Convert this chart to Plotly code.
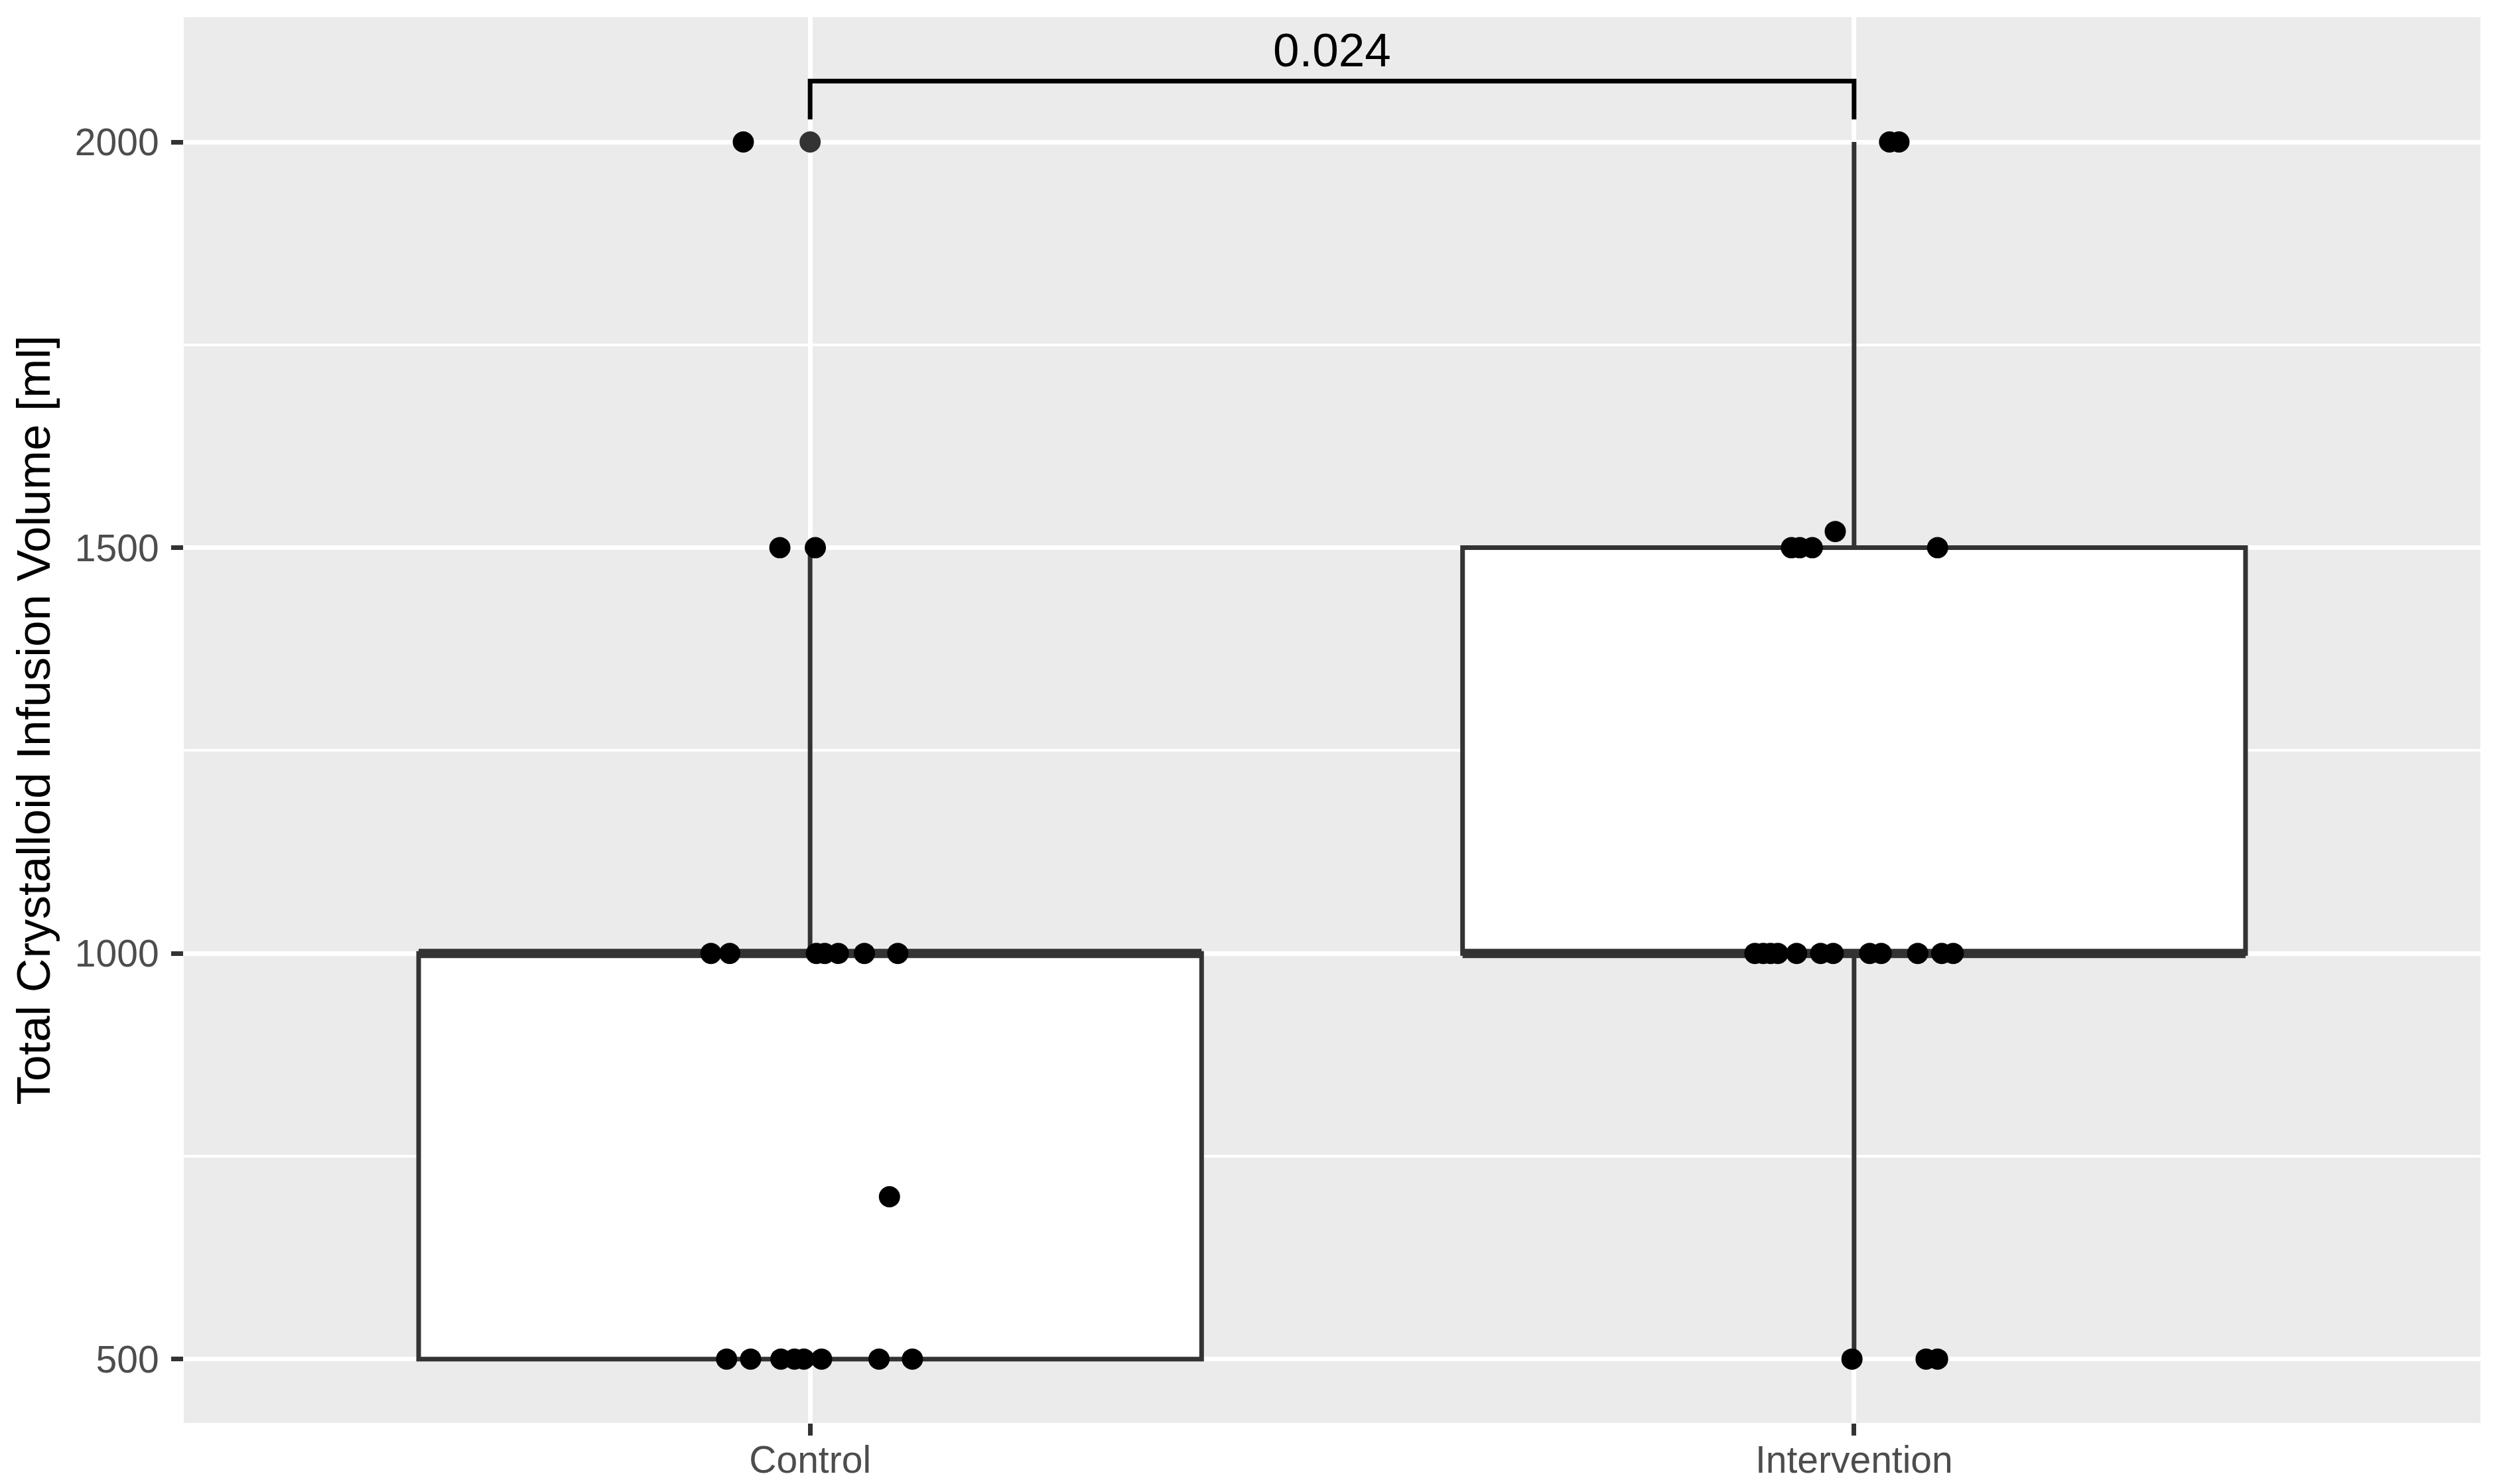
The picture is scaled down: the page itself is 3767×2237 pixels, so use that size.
import numpy as np
import plotly.graph_objects as go

# groups and their x positions on the discrete axis
groups = ["Control", "Intervention"]
positions = [1, 2]

# crystalloid volumes (ml) and horizontal jitter
control_vals = [2000, 1500, 1500,
                1000, 1000, 1000, 1000, 1000, 1000, 1000,
                700,
                500, 500, 500, 500, 500, 500, 500, 500]
control_jit = [-0.064, -0.029, 0.005,
               -0.095, -0.077, 0.006, 0.014, 0.027, 0.052, 0.084,
               0.076,
               -0.080, -0.057, -0.028, -0.015, -0.006, 0.011, 0.066, 0.098]

interv_vals = [2000, 2000, 1520, 1500, 1500, 1500, 1500,
               1000, 1000, 1000, 1000, 1000, 1000, 1000, 1000, 1000, 1000, 1000, 1000,
               500, 500, 500]
interv_jit = [0.034, 0.043, -0.018, -0.060, -0.052, -0.040, 0.080,
              -0.095, -0.087, -0.080, -0.073, -0.055, -0.032, -0.020, 0.015, 0.026, 0.061, 0.084, 0.095,
              -0.002, 0.069, 0.080]

p_value = "0.024"
y_ticks = [500, 1000, 1500, 2000]
y_minor = [750, 1250, 1750]

all_vals = [control_vals, interv_vals]
all_jit = [control_jit, interv_jit]

# box statistics (same as ggplot's stat_boxplot)
q1s, meds, q3s, lows, highs = [], [], [], [], []
out_x, out_y = [], []
for pos, vals in zip(positions, all_vals):
    v = np.array(vals, dtype=float)
    q1, med, q3 = np.percentile(v, [25, 50, 75])
    iqr = q3 - q1
    inside = v[(v >= q1 - 1.5 * iqr) & (v <= q3 + 1.5 * iqr)]
    q1s.append(q1); meds.append(med); q3s.append(q3)
    lows.append(inside.min()); highs.append(inside.max())
    outs = v[(v < q1 - 1.5 * iqr) | (v > q3 + 1.5 * iqr)]
    out_x += [pos] * len(outs)
    out_y += list(outs)

box_w = 0.75
dark = "#333333"

fig = go.Figure()

fig.add_trace(go.Box(x=positions, q1=q1s, median=meds, q3=q3s,
                     lowerfence=lows, upperfence=highs,
                     width=box_w, whiskerwidth=0, boxpoints=False,
                     fillcolor="white", line=dict(color=dark, width=7),
                     showlegend=False, hoverinfo="skip"))

# thicker median line, as in ggplot
for pos, med in zip(positions, meds):
    fig.add_trace(go.Scatter(x=[pos - box_w / 2, pos + box_w / 2], y=[med, med],
                             mode="lines", line=dict(color=dark, width=14),
                             showlegend=False, hoverinfo="skip"))

# boxplot outliers
fig.add_trace(go.Scatter(x=out_x, y=out_y, mode="markers",
                         marker=dict(color=dark, size=32, line=dict(width=0)),
                         showlegend=False))

# jittered observations
for pos, vals, jit in zip(positions, all_vals, all_jit):
    fig.add_trace(go.Scatter(x=[pos + j for j in jit], y=vals, mode="markers",
                             marker=dict(color="black", size=32, line=dict(width=0)),
                             showlegend=False))

# significance bracket
y_min = min(min(v) for v in all_vals)
y_max = max(max(v) for v in all_vals)
bracket_top = y_max + 0.05 * (y_max - y_min)
span = bracket_top - y_min
tip = bracket_top - 0.03 * span
fig.add_trace(go.Scatter(x=[positions[0], positions[0], positions[1], positions[1]],
                         y=[tip, bracket_top, bracket_top, tip],
                         mode="lines", line=dict(color="black", width=7),
                         showlegend=False, hoverinfo="skip"))
fig.add_annotation(x=(positions[0] + positions[1]) / 2, y=bracket_top, text=p_value,
                   showarrow=False, yanchor="bottom", xanchor="center", yshift=5,
                   font=dict(size=71, color="black"))

# page body has an 8px margin, so the figure is trimmed to fit the window
fig.update_layout(
    width=3751, height=2221,
    margin=dict(l=269, r=20, t=18, b=84),
    paper_bgcolor="white", plot_bgcolor="#EBEBEB",
    font=dict(family="Liberation Sans, Arial, sans-serif"),
)
fig.update_xaxes(range=[0.4, 2.6], tickvals=positions, ticktext=groups,
                 showgrid=True, gridcolor="white", gridwidth=7, zeroline=False,
                 ticks="outside", ticklen=18, tickwidth=7, tickcolor=dark,
                 ticklabelstandoff=-12,
                 tickfont=dict(size=57, color="#4D4D4D"), automargin=False)
fig.update_yaxes(range=[y_min - 0.05 * span, bracket_top + 0.05 * span],
                 tickvals=y_ticks, showgrid=True, gridcolor="white", gridwidth=7,
                 zeroline=False,
                 minor=dict(tickvals=y_minor, showgrid=True, gridcolor="white", gridwidth=3.5),
                 ticks="outside", ticklen=18, tickwidth=7, tickcolor=dark,
                 ticklabelstandoff=7,
                 tickfont=dict(size=57, color="#4D4D4D"), automargin=False,
                 title=dict(text="Total Crystalloid Infusion Volume [ml]",
                            font=dict(size=71, color="black"), standoff=13))

fig.write_html("out.html")
